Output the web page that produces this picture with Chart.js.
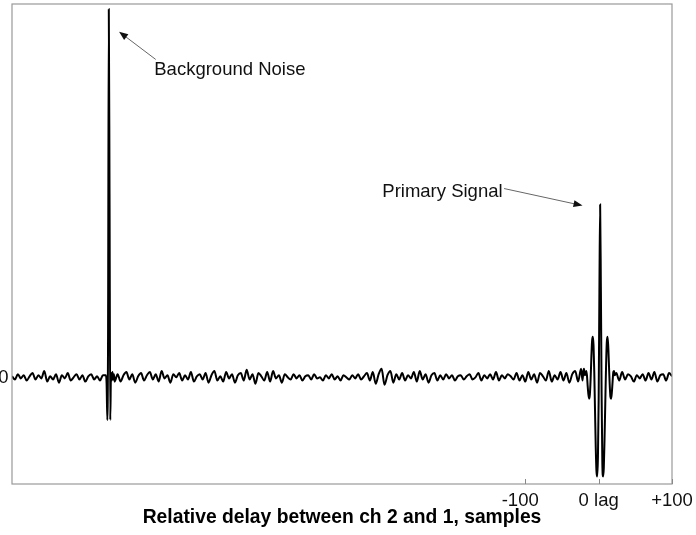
<!DOCTYPE html>
<html>
<head>
<meta charset="utf-8">
<script src="https://cdn.jsdelivr.net/npm/chart.js@4.4.1/dist/chart.umd.min.js"></script>
<style>
  html, body { margin: 0; padding: 0; background: #fff; }
  canvas { display: block; }
</style>
</head>
<body>
<canvas id="grafico" width="696" height="535"></canvas>
<script>
// Eixo x: atraso relativo em amostras
const xMin = -800;
const xMax = 100;
const xTickValues = [-100, 0, 100];
const xTickLabels = ['-100  ', '0 lag', '+100'];
const yTickValues = [0];
const yTickLabels = ['0'];

// Ruido antes do pico de fundo (inicio -800, passo 4)
const ruido1Inicio = -800;
const ruido1 = [0.01, -0.02, 0.03, -0.01, 0.02, -0.03, 0.01, 0.04, -0.02, 0.02,
    -0.01, 0.06, -0.04, 0.01, -0.02, 0.03, -0.05, 0.02, -0.01, 0.04,
    -0.03, 0.00, 0.03, -0.02, 0.02, -0.04, 0.01, 0.03, -0.02, 0.01,
    -0.03, 0.02];

// Pico do ruido de fundo (amostra a amostra)
const picoFundoInicio = -672;
const picoFundo = [0.02, -0.06, -0.40, 0.41, 3.45, 1.72, -0.40, 0.04, -0.03, 0.05, -0.02, 0.03, -0.04];

// Ruido entre os dois picos (inicio -656, passo 4)
const ruido2Inicio = -656;
const ruido2 = [
    0.03, -0.04, 0.02, 0.05, -0.02, 0.03, -0.05, 0.01, 0.04, -0.03,
    0.02, 0.05, -0.02, 0.03, -0.04, 0.06, -0.01, 0.02, -0.05, 0.03,
    0.00, 0.04, -0.03, 0.02, -0.02, 0.05, -0.04, 0.01, 0.03, -0.02,
    0.04, -0.05, 0.02, 0.06, -0.03, 0.01, -0.04, 0.05, -0.01, 0.03,
    -0.05, 0.02, 0.04, -0.03, 0.07, -0.02, 0.03, -0.06, 0.04, 0.01,
    -0.03, 0.05, -0.04, 0.06, -0.01, 0.02, -0.05, 0.03, 0.00, -0.02,
    0.03, -0.01, 0.02, -0.03, 0.01, 0.02, -0.02, 0.03, -0.01, 0.00,
    -0.03, 0.02, -0.01, 0.03, -0.02, 0.01, -0.03, 0.02, 0.00, -0.02,
    0.02, -0.01, 0.03, -0.02, 0.01, 0.04, -0.03, 0.05, -0.06, 0.03,
    0.08, -0.07, 0.02, 0.06, -0.05, 0.03, -0.02, 0.04, -0.03, 0.02,
    -0.01, 0.05, -0.04, 0.06, -0.02, 0.03, -0.05, 0.02, 0.04, -0.03,
    0.02, -0.02, 0.03, -0.01, 0.02, -0.03, 0.01, 0.02, -0.02, 0.01,
    0.03, -0.02, 0.00, 0.04, -0.03, 0.02, -0.01, 0.03, -0.02, 0.05,
    -0.03, 0.02, -0.01, 0.03, 0.01, -0.02, 0.04, -0.03, 0.02, -0.04,
    0.05, -0.02, 0.03, -0.05, 0.04, 0.01, -0.03, 0.06, -0.04, 0.02,
    -0.02, 0.05, -0.03, 0.04, -0.05, 0.03, 0.06, -0.04, 0.08
];

// Sinal principal (amostra a amostra, inicio -22)
const sinalInicio = -22;
const sinal = [
    -0.03, 0.05, 0.08, 0.02, 0.03, 0.06, 0.02, -0.08, -0.16, -0.20,
    -0.16, -0.02, 0.18, 0.34, 0.38, 0.30, 0.05, -0.30, -0.65, -0.88,
    -0.93, -0.75, -0.20, 0.80, 1.62, 0.85, -0.15, -0.80, -0.93, -0.85,
    -0.58, -0.25, 0.08, 0.32, 0.38, 0.30, 0.12, -0.06, -0.18, -0.20,
    -0.14, -0.04, 0.05, 0.06, 0.02
];

// Ruido depois do sinal (inicio 24, passo 4)
const ruido3Inicio = 24;
const ruido3 = [0.04, -0.03, 0.05, -0.02, 0.03, 0.01, -0.04, 0.02, -0.01, 0.03,
    -0.03, 0.04, -0.02, 0.05, -0.04, 0.02, 0.03, -0.03, 0.04, 0.01];

const textos = ['Background Noise', 'Primary Signal'];
const tituloX = 'Relative delay between ch 2 and 1, samples';

// Junta os trechos numa unica serie {x, y}
function trecho(inicio, passo, valores) {
    return valores.map((v, i) => ({ x: inicio + i * passo, y: v }));
}

const pontos = [].concat(
    trecho(ruido1Inicio, 4, ruido1),
    trecho(picoFundoInicio, 1, picoFundo),
    trecho(ruido2Inicio, 4, ruido2),
    trecho(sinalInicio, 1, sinal),
    trecho(ruido3Inicio, 4, ruido3)
);

const fonte = '"Liberation Sans", Arial, sans-serif';
const tamanho = 18.5;

// Moldura, marcas de escala internas, rotulo do eixo y e anotacoes com setas
const molduraPlugin = {
    id: 'moldura',
    afterDraw(chart) {
        const ctx = chart.ctx;
        const a = chart.chartArea;
        const sx = chart.scales.x;
        const sy = chart.scales.y;
        ctx.save();
        ctx.strokeStyle = '#999';
        ctx.lineWidth = 1.2;
        ctx.strokeRect(a.left, a.top, a.right - a.left, a.bottom - a.top);

        // marcas internas no eixo x
        ctx.strokeStyle = '#888';
        ctx.lineWidth = 1;
        xTickValues.forEach(v => {
            const px = Math.round(sx.getPixelForValue(v)) + 0.5;
            ctx.beginPath();
            ctx.moveTo(px, a.bottom);
            ctx.lineTo(px, a.bottom - 5);
            ctx.stroke();
        });

        // rotulo do eixo y
        ctx.font = tamanho + 'px ' + fonte;
        ctx.fillStyle = '#111';
        ctx.textAlign = 'right';
        ctx.textBaseline = 'middle';
        yTickValues.forEach((v, i) => {
            ctx.fillText(yTickLabels[i], a.left - 3.5, sy.getPixelForValue(v) + 1);
        });

        // anotacoes
        const notas = [
            { texto: textos[0], tx: -606, ty: 2.88, alinha: 'left', de: [-604, 2.98], para: [-654, 3.24] },
            { texto: textos[1], tx: -131, ty: 1.74, alinha: 'right', de: [-129, 1.77], para: [-22, 1.61] }
        ];
        notas.forEach(n => {
            ctx.fillStyle = '#111';
            ctx.textAlign = n.alinha;
            ctx.fillText(n.texto, sx.getPixelForValue(n.tx), sy.getPixelForValue(n.ty));
            const x1 = sx.getPixelForValue(n.de[0]), y1 = sy.getPixelForValue(n.de[1]);
            const x2 = sx.getPixelForValue(n.para[0]), y2 = sy.getPixelForValue(n.para[1]);
            const ang = Math.atan2(y2 - y1, x2 - x1);
            ctx.strokeStyle = '#666';
            ctx.lineWidth = 1;
            ctx.beginPath();
            ctx.moveTo(x1, y1);
            ctx.lineTo(x2 - 6 * Math.cos(ang), y2 - 6 * Math.sin(ang));
            ctx.stroke();
            ctx.beginPath();
            ctx.moveTo(x2, y2);
            ctx.lineTo(x2 - 9 * Math.cos(ang) + 3.5 * Math.sin(ang), y2 - 9 * Math.sin(ang) - 3.5 * Math.cos(ang));
            ctx.lineTo(x2 - 9 * Math.cos(ang) - 3.5 * Math.sin(ang), y2 - 9 * Math.sin(ang) + 3.5 * Math.cos(ang));
            ctx.closePath();
            ctx.fill();
        });
        ctx.restore();
    }
};

function criarGrafico() {
    const ctx = document.getElementById('grafico');
    new Chart(ctx, {
        type: 'line',
        data: {
            datasets: [{
                data: pontos,
                borderColor: '#000',
                borderWidth: 2,
                pointRadius: 0,
                cubicInterpolationMode: 'monotone',
                fill: false
            }]
        },
        options: {
            responsive: false,
            animation: false,
            devicePixelRatio: 1,
            layout: { padding: { top: 4, right: 24, left: 0, bottom: 0 } },
            plugins: {
                legend: { display: false },
                tooltip: { enabled: false }
            },
            scales: {
                x: {
                    type: 'linear',
                    min: xMin,
                    max: xMax,
                    afterBuildTicks: s => { s.ticks = xTickValues.map(v => ({ value: v })); },
                    afterFit: s => { s.height = 51; s.paddingLeft = 0; s.paddingRight = 0; },
                    grid: { display: false },
                    border: { display: false },
                    ticks: {
                        autoSkip: false,
                        maxRotation: 0,
                        padding: -2,
                        color: '#111',
                        font: { family: fonte, size: tamanho },
                        callback: v => xTickLabels[xTickValues.indexOf(v)]
                    },
                    title: {
                        display: true,
                        text: tituloX,
                        color: '#000',
                        font: { family: fonte, size: 19.3, weight: 'bold' },
                        padding: { top: 0, bottom: 6 }
                    }
                },
                y: {
                    type: 'linear',
                    min: -1,
                    max: 3.5,
                    afterFit: s => { s.width = 12; s.paddingTop = 0; s.paddingBottom = 0; },
                    grid: { display: false },
                    border: { display: false },
                    ticks: { display: false }
                }
            }
        },
        plugins: [molduraPlugin]
    });
}

document.addEventListener('DOMContentLoaded', criarGrafico);
</script>
</body>
</html>
